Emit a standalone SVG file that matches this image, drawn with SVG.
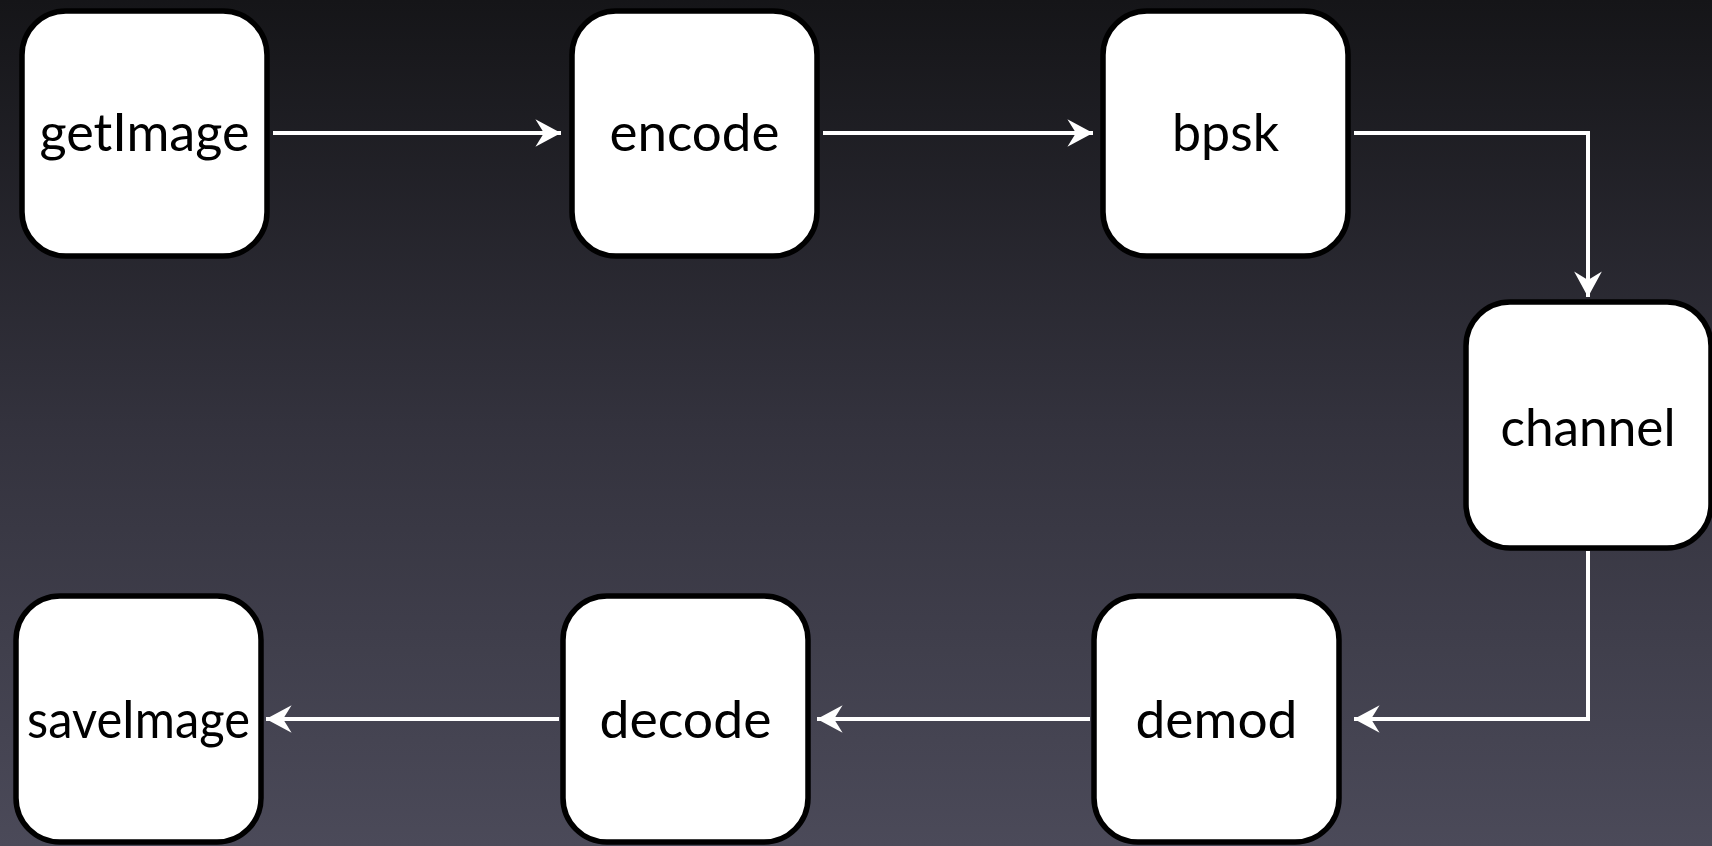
<svg xmlns="http://www.w3.org/2000/svg" width="1712" height="846" viewBox="0 0 1712 846">
<defs>
<linearGradient id="bg" x1="0" y1="0" x2="0" y2="1">
<stop offset="0" stop-color="#151518"/>
<stop offset="0.5" stop-color="#33323d"/>
<stop offset="1" stop-color="#4b4a59"/>
</linearGradient>
<marker id="arr" markerUnits="userSpaceOnUse" markerWidth="32" markerHeight="32" viewBox="-26 -15 30 30" refX="0" refY="0" orient="auto">
<path d="M0,0 L-24,-13 L-16,0 L-24,13 Z" fill="#ffffff"/>
</marker>
<style>
.box{fill:#ffffff;stroke:#000000;stroke-width:5.5}
.lbl{font-family:"Lato","Open Sans","Liberation Sans",sans-serif;font-size:53px;fill:#000000;text-anchor:middle}
.edge{fill:none;stroke:#ffffff;stroke-width:4;marker-end:url(#arr)}
</style>
</defs>
<rect x="0" y="0" width="1712" height="846" fill="url(#bg)"/>
<g id="connectors">
<path class="edge" d="M273,133 L561,133"/>
<path class="edge" d="M823,133 L1093,133"/>
<path class="edge" d="M1354,133 L1588,133 L1588,297"/>
<path class="edge" d="M1588,551 L1588,719 L1354,719"/>
<path class="edge" d="M1090,719 L817,719"/>
<path class="edge" d="M559,719 L266,719"/>
</g>
<g id="getImage"><rect class="box" x="22" y="11" width="245" height="245" rx="44"/><text class="lbl" x="144.5" y="151" textLength="210" lengthAdjust="spacingAndGlyphs">getImage</text></g>
<g id="encode"><rect class="box" x="572" y="11" width="245" height="245" rx="44"/><text class="lbl" x="694.5" y="151" textLength="170" lengthAdjust="spacingAndGlyphs">encode</text></g>
<g id="bpsk"><rect class="box" x="1103" y="11" width="245" height="245" rx="44"/><text class="lbl" x="1225.5" y="151" textLength="107" lengthAdjust="spacingAndGlyphs">bpsk</text></g>
<g id="channel"><rect class="box" x="1466" y="302" width="245" height="246" rx="44"/><text class="lbl" x="1588" y="446" textLength="175" lengthAdjust="spacingAndGlyphs">channel</text></g>
<g id="demod"><rect class="box" x="1094" y="596" width="245" height="246" rx="44"/><text class="lbl" x="1216.5" y="738" textLength="162" lengthAdjust="spacingAndGlyphs">demod</text></g>
<g id="decode"><rect class="box" x="563" y="596" width="245" height="246" rx="44"/><text class="lbl" x="685.5" y="738" textLength="172" lengthAdjust="spacingAndGlyphs">decode</text></g>
<g id="saveImage"><rect class="box" x="16" y="596" width="245" height="246" rx="44"/><text class="lbl" x="138.5" y="738" textLength="223" lengthAdjust="spacingAndGlyphs">saveImage</text></g>
</svg>
